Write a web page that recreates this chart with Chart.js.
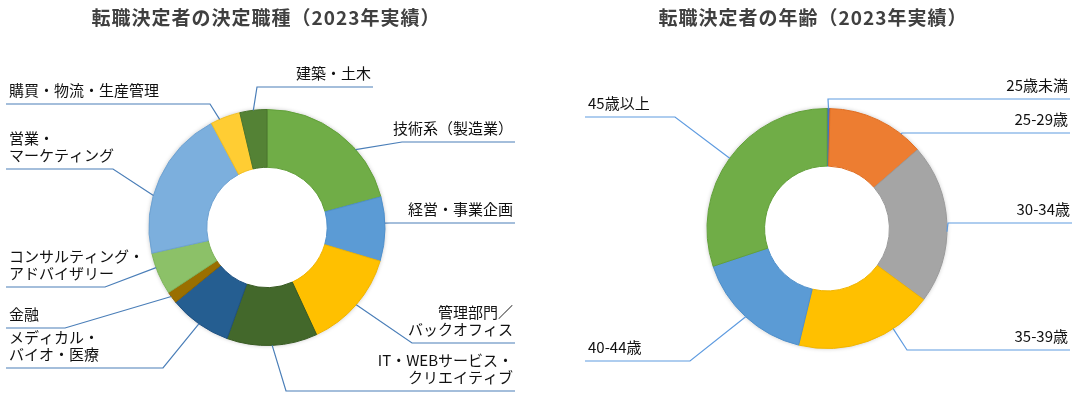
<!DOCTYPE html>
<html lang="ja">
<head>
<meta charset="UTF-8">
<title>転職決定者の職種と年齢</title>
<style>
  body { margin:0; background:#fff; }
  .wrap { position:relative; width:1083px; height:400px; }
  canvas { position:absolute; top:0; }
  #jobChart { left:0; }
  #ageChart { left:540px; }
</style>
</head>
<body>
<div class="wrap">
  <canvas id="jobChart" width="540" height="400"></canvas>
  <canvas id="ageChart" width="543" height="400"></canvas>
</div>
<script src="https://cdn.jsdelivr.net/npm/chart.js"></script>
<script>
// 職種（%）
const jobLabels = [
  ['技術系（製造業）'], ['経営・事業企画'], ['管理部門／', 'バックオフィス'],
  ['IT・WEBサービス・', 'クリエイティブ'], ['メディカル・', 'バイオ・医療'], ['金融'],
  ['コンサルティング・', 'アドバイザリー'], ['営業・', 'マーケティング'],
  ['購買・物流・生産管理'], ['建築・土木']
];
const jobShares = [20.8, 8.8, 13.5, 12.4, 8.6, 1.6, 5.8, 20.7, 4.1, 3.7];

// 年齢（%）
const ageLabels = [['25歳未満'], ['25-29歳'], ['30-34歳'], ['35-39歳'], ['40-44歳'], ['45歳以上']];
const ageShares = [0.4, 13.2, 21.5, 18.7, 16.1, 30.1];

const jobColors  = ['#70AD47','#5B9BD5','#FFC000','#43682B','#255E91','#9A6F00','#8CC168','#7CAFDD','#FFCD33','#548235'];
const jobBorders = ['#62A03A','#4E8FCB','#F0B400','#385A22','#1F5182','#8A6300','#7DB35A','#6EA2D2','#F2BF22','#4A752E'];
const ageColors  = ['#4472C4','#ED7D31','#A5A5A5','#FFC000','#5B9BD5','#70AD47'];
const ageBorders = ['#3A66B5','#E06E22','#9A9A9A','#F0B400','#4E8FCB','#62A03A'];

// leader line layout: knee point, line height, line end, where on the slice it starts
const jobCallouts = [
  {kneeX:402, lineY:142, endX:515, at:0.65},
  {kneeX:390, lineY:223, endX:515, at:0.41},
  {kneeX:412, lineY:343, endX:515, at:0.5},
  {kneeX:286, lineY:391, endX:515, at:0.5},
  {kneeX:163, lineY:368, endX:6,   at:0.5},
  {kneeX:65,  lineY:328, endX:6,   at:0.6},
  {kneeX:105, lineY:287, endX:6,   at:0.65},
  {kneeX:113, lineY:169, endX:6,   at:0.38},
  {kneeX:210, lineY:104, endX:6,   at:0.3},
  {kneeX:257, lineY:87,  endX:373, at:0.5}
];
const ageCallouts = [
  {kneeX:288, lineY:99,  endX:530, at:0.5},
  {kneeX:362, lineY:133, endX:530, at:0.77},
  {kneeX:408, lineY:223, endX:532, at:0.55},
  {kneeX:367, lineY:350, endX:530, at:0.3},
  {kneeX:150, lineY:361, endX:45,  at:0.5},
  {kneeX:135, lineY:117, endX:45,  at:0.5}
];

function calloutPlugin(layout, title, titleX, lineColor) {
  return {
    id: 'callouts',
    beforeDatasetsDraw(chart) {
      const el = chart.getDatasetMeta(0).data[0];
      const ctx = chart.ctx;
      ctx.save();
      ctx.shadowColor = 'rgba(0,0,0,0.25)';
      ctx.shadowBlur = 4;
      ctx.fillStyle = '#fff';
      ctx.beginPath();
      ctx.arc(el.x, el.y, el.outerRadius, 0, Math.PI * 2);
      ctx.fill();
      ctx.restore();
    },
    afterDatasetsDraw(chart) {
      const ctx = chart.ctx;
      ctx.save();
      ctx.font = 'bold 19px "Noto Sans CJK JP"';
      ctx.fillStyle = '#404040';
      ctx.textAlign = 'center';
      ctx.textBaseline = 'middle';
      ctx.letterSpacing = '1px';
      ctx.fillText(title, titleX, 18);

      ctx.font = '15px "Noto Sans CJK JP"';
      ctx.letterSpacing = '0px';
      ctx.textBaseline = 'alphabetic';
      chart.getDatasetMeta(0).data.forEach((el, i) => {
        const c = layout[i];
        const p = el.getProps(['x', 'y', 'startAngle', 'endAngle', 'outerRadius']);
        const a = p.startAngle + (p.endAngle - p.startAngle) * c.at;
        const ax = p.x + Math.cos(a) * p.outerRadius;
        const ay = p.y + Math.sin(a) * p.outerRadius;
        ctx.strokeStyle = lineColor;
        ctx.lineWidth = 1.2;
        ctx.beginPath();
        ctx.moveTo(ax, ay);
        ctx.lineTo(c.kneeX, c.lineY);
        ctx.lineTo(c.endX, c.lineY);
        ctx.stroke();

        const lines = chart.data.labels[i];
        const right = c.endX > c.kneeX;
        ctx.textAlign = right ? 'right' : 'left';
        ctx.fillStyle = '#111';
        const tx = right ? c.endX - 2 : c.endX + 3;
        lines.forEach((t, k) => {
          ctx.fillText(t, tx, c.lineY - 8 - (lines.length - 1 - k) * 17);
        });
      });
      ctx.restore();
    }
  };
}

function makeDoughnut(id, labels, values, colors, borders, radius, cutout, padding, plugin) {
  return new Chart(document.getElementById(id), {
    type: 'doughnut',
    data: {
      labels: labels,
      datasets: [{
        data: values,
        backgroundColor: colors,
        borderColor: borders,
        borderWidth: 1
      }]
    },
    options: {
      responsive: false,
      animation: false,
      radius: radius,
      cutout: cutout,
      layout: { padding: padding },
      plugins: {
        legend: { display: false },
        tooltip: { enabled: false }
      }
    },
    plugins: [plugin]
  });
}

makeDoughnut('jobChart', jobLabels, jobShares, jobColors, jobBorders, 118, '51%',
  {left:142, right:148, top:102.5, bottom:47.5},
  calloutPlugin(jobCallouts, '転職決定者の決定職種（2023年実績）', 266, '#4A7EB8'));

makeDoughnut('ageChart', ageLabels, ageShares, ageColors, ageBorders, 120, '52%',
  {left:162, right:131, top:103.5, bottom:46.5},
  calloutPlugin(ageCallouts, '転職決定者の年齢（2023年実績）', 273, '#5E9BE0'));
</script>
</body>
</html>
